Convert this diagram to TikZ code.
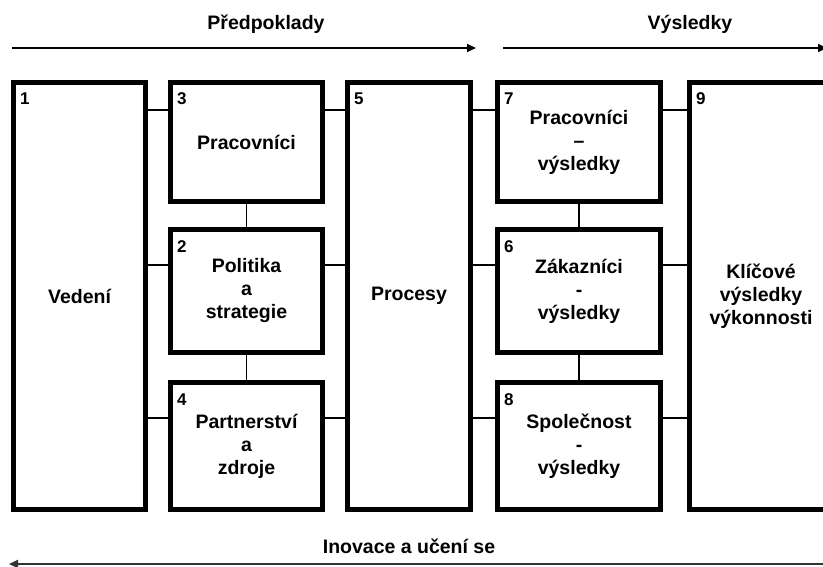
\documentclass[tikz,border=0pt]{standalone}
\usepackage{fontspec}
\setmainfont{Liberation Sans}
\usetikzlibrary{arrows.meta}

\begin{document}
\begin{tikzpicture}[x=1pt, y=-1pt,
    box/.style={draw, line width=5pt, minimum width=#1, inner sep=2pt, align=center,
        font=\fontsize{19.5}{23}\selectfont\bfseries},
    num/.style={anchor=base west, inner sep=0pt, font=\fontsize{17}{17}\selectfont\bfseries},
    link/.style={line width=1.3pt},
    flow/.style={line width=1.8pt, -{Triangle[length=9pt,width=8pt]}},
    head/.style={font=\fontsize{19.5}{22}\selectfont\bfseries}]
        \clip (0,0) rectangle (823,567);

        % boxes
        \node[box=132, minimum height=427] (vedeni) at (79.5,296) {Vedení};
        \node[box=152, minimum height=119] (pracovnici) at (246.5,142) {Pracovníci};
        \node[box=152, minimum height=123] (politika) at (246.5,291) {Politika\\a\\strategie};
        \node[box=152, minimum height=127] (partnerstvi) at (246.5,446) {Partnerství\\a\\zdroje};
        \node[box=123, minimum height=427] (procesy) at (409,296) {Procesy};
        \node[box=163, minimum height=119] (pracvysl) at (579,142) {Pracovníci\\–\\výsledky};
        \node[box=163, minimum height=123] (zakvysl) at (579,291) {Zákazníci\\-\\výsledky};
        \node[box=163, minimum height=127] (spolvysl) at (579,446) {Společnost\\-\\výsledky};
        \node[box=143, minimum height=427] (klicove) at (761,296) {Klíčové\\výsledky\\výkonnosti};

        % numbers
        \foreach \b/\n in {vedeni/1, pracovnici/3, politika/2, partnerstvi/4, procesy/5,
                pracvysl/7, zakvysl/6, spolvysl/8, klicove/9}
            \node[num] (num\n) at ([shift={(9,25)}]\b.north west) {\n};

        % links
        \coordinate (row1) at (0,110);
        \coordinate (row2) at (0,265);
        \coordinate (row3) at (0,418);
        \foreach \r/\a/\b in {row1/pracovnici/pracvysl, row2/politika/zakvysl, row3/partnerstvi/spolvysl} {
            \draw[link] (vedeni.east |- \r) -- (\a.west |- \r);
            \draw[link] (\a.east |- \r) -- (procesy.west |- \r);
            \draw[link] (procesy.east |- \r) -- (\b.west |- \r);
            \draw[link] (\b.east |- \r) -- (klicove.west |- \r);
        }
        \draw[link] (pracovnici.south) -- (politika.north);
        \draw[link] (politika.south) -- (partnerstvi.north);
        \draw[link] (pracvysl.south) -- (zakvysl.north);
        \draw[link] (zakvysl.south) -- (spolvysl.north);

        % arrows
        \coordinate (pa) at (12,48);
        \coordinate (pb) at (476,48);
        \coordinate (va) at (503,48);
        \coordinate (vb) at (827,48);
        \coordinate (ia) at (827,564);
        \coordinate (ib) at (9,564);
        \draw[flow] (pa) -- (pb);
        \draw[flow] (va) -- (vb);
        \draw[flow, black!80] (ia) -- (ib);
        \node[head] (predpoklady) at (266,24) {Předpoklady};
        \node[head] (vysledky) at (690,24) {Výsledky};
        \node[head] (inovace) at (409,546) {Inovace a učení se};
    \end{tikzpicture}
\end{document}
